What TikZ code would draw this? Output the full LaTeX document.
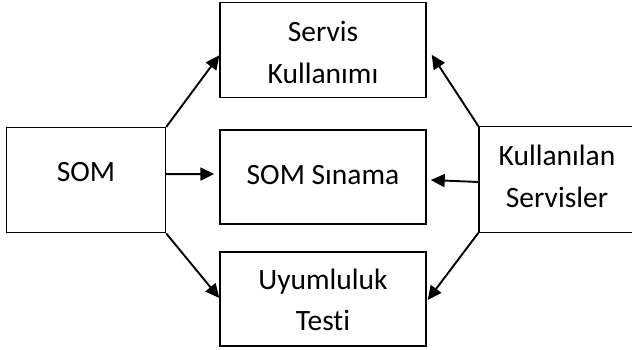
\documentclass[tikz,border=0pt]{standalone}
\usepackage{fontspec}
\setmainfont[Ligatures={NoCommon}]{Carlito}
\usetikzlibrary{arrows.meta,calc}
\newcommand{\boxtext}[2]{\raisebox{#1}{\begin{tabular}[b]{@{}c@{}}#2\end{tabular}}}
\begin{document}
\begin{tikzpicture}[x=1pt,y=1pt,
  box/.style={draw=black,line width=1.4pt,rectangle,inner sep=0pt,
    text height=0pt,text depth=0pt,
    font=\fontsize{29.5}{41.5}\selectfont},
  arr/.style={line width=1.9pt,-{Triangle[length=14pt,width=13pt]}}]
\useasboundingbox (0,0) rectangle (632,350);
\node[box,minimum width=159pt,minimum height=105pt] (som) at (86,169.8) {\boxtext{-1.3pt}{SOM}};
\node[box,minimum width=206pt,minimum height=95pt] (serv) at (323,299.7) {\boxtext{-32.8pt}{Servis\\Kullanımı}};
\node[box,minimum width=206pt,minimum height=94pt] (sin) at (323,173) {\boxtext{-7.3pt}{SOM Sınama}};
\node[box,minimum width=206pt,minimum height=94pt] (uyu) at (323,51) {\boxtext{-31.7pt}{Uyumluluk\\Testi}};
\node[box,minimum width=156pt,minimum height=105.5pt] (kul) at (557,170.5) {\boxtext{-27.7pt}{Kullanılan\\Servisler}};
\draw[arr] (som.north east) -- ($(serv.west)+(0,-5)$);
\draw[arr] ($(som.east)+(0,6)$) -- ($(sin.west)+(-5,3)$);
\draw[arr] (som.south east) -- ($(uyu.west)+(0,1)$);
\draw[arr] (kul.north west) -- ($(serv.east)+(5,-4.5)$);
\draw[arr] ($(kul.west)+(0,-2.5)$) -- ($(sin.east)+(4,-3)$);
\draw[arr] (kul.south west) -- ($(uyu.east)+(1,-1)$);
\end{tikzpicture}
\end{document}
